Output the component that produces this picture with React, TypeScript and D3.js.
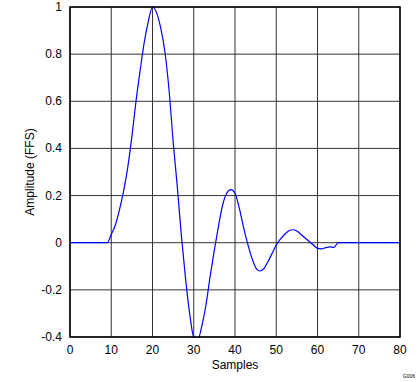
import React from "react";
import * as d3 from "d3";

const samples: number[] = [
  0, 1, 2, 3, 4, 5, 6, 7, 8, 9, 10, 11, 12, 13, 14, 15, 16, 17, 18, 19, 20,
  21, 22, 23, 24, 25, 26, 27, 28, 29, 30, 31, 32, 33, 34, 35, 36, 37, 38, 39, 40,
  41, 42, 43, 44, 45, 46, 47, 48, 49, 50, 51, 52, 53, 54, 55, 56, 57, 58, 59, 60,
  61, 62, 63, 64, 65, 66, 67, 68, 69, 70, 71, 72, 73, 74, 75, 76, 77, 78, 79, 80,
];
const amplitude: number[] = [
  0, 0, 0, 0, 0, 0, 0, 0, 0, 0, 0.035, 0.075, 0.14, 0.22, 0.32, 0.45, 0.6, 0.73, 0.85, 0.94, 1.0,
  0.975, 0.91, 0.81, 0.65, 0.43, 0.24, 0.03, -0.15, -0.3, -0.4, -0.41, -0.35, -0.26, -0.14, -0.03, 0.07, 0.16, 0.21, 0.225, 0.21,
  0.15, 0.07, 0.0, -0.06, -0.105, -0.12, -0.11, -0.08, -0.045, -0.01, 0.015, 0.035, 0.05, 0.055, 0.05, 0.035, 0.02, 0.005, -0.01, -0.024,
  -0.026, -0.021, -0.018, -0.02, 0, 0, 0, 0, 0, 0, 0, 0, 0, 0, 0, 0, 0, 0, 0, 0,
];
const xTicks: number[] = [0, 10, 20, 30, 40, 50, 60, 70, 80];
const yTicks: number[] = [1, 0.8, 0.6, 0.4, 0.2, 0, -0.2, -0.4];

const W = 419;
const H = 382;
const L = 70;
const R = 400;
const T = 7;
const B = 337;

export default function App() {
  const x = d3.scaleLinear().domain([0, 80]).range([L, R]);
  const y = d3.scaleLinear().domain([-0.4, 1]).range([B, T]);
  const line = d3
    .line<number>()
    .x((_, i) => x(samples[i]))
    .y((d) => y(d))
    .curve(d3.curveMonotoneX);
  const font = "'Liberation Sans', Arial, sans-serif";
  return (
    <svg
      width={W}
      height={H}
      style={{ position: "absolute", left: 0, top: 0, background: "#fff" }}
      fontFamily={font}
    >
      <defs>
        <clipPath id="plot">
          <rect x={L} y={T - 1} width={R - L} height={B - T + 2} />
        </clipPath>
      </defs>
      <rect x={0} y={0} width={W} height={H} fill="#fff" />
      {xTicks.map((t) => (
        <line key={"gx" + t} x1={x(t)} x2={x(t)} y1={T} y2={B} stroke="#333" strokeWidth={1} />
      ))}
      {yTicks.map((t) => (
        <line key={"gy" + t} x1={L} x2={R} y1={y(t)} y2={y(t)} stroke="#333" strokeWidth={1} />
      ))}
      <path d={line(amplitude) || ""} fill="none" stroke="#0000ff" strokeWidth={1.2} clipPath="url(#plot)" />
      <rect x={L} y={T} width={R - L} height={B - T} fill="none" stroke="#000" strokeWidth={1.5} />
      {yTicks.map((t) => (
        <text key={"ty" + t} x={L - 8} y={y(t) + 4} textAnchor="end" fontSize={12} fill="#000">
          {String(t)}
        </text>
      ))}
      {xTicks.map((t) => (
        <text key={"tx" + t} x={x(t)} y={354} textAnchor="middle" fontSize={12} fill="#000">
          {String(t)}
        </text>
      ))}
      <text x={(L + R) / 2} y={369} textAnchor="middle" fontSize={12} fill="#000">
        Samples
      </text>
      <text
        transform={`translate(34, ${(T + B) / 2}) rotate(-90)`}
        textAnchor="middle"
        fontSize={12}
        fill="#000"
      >
        Amplitude (FFS)
      </text>
      <text x={415} y={378} textAnchor="end" fontSize={5} fill="#000">
        G006
      </text>
    </svg>
  );
}
